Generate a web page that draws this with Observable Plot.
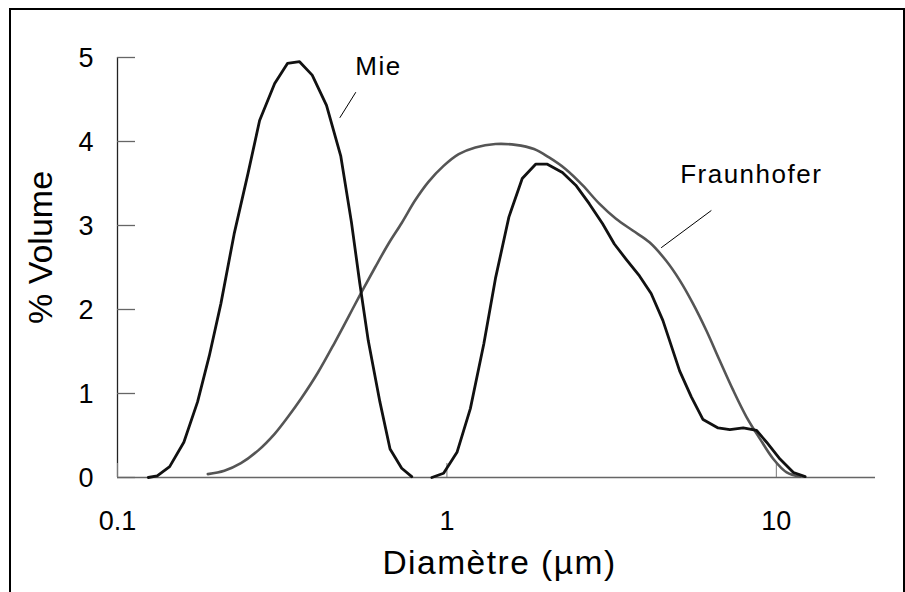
<!DOCTYPE html>
<html>
<head>
<meta charset="utf-8">
<script src="https://cdn.jsdelivr.net/npm/d3@7"></script>
<script src="https://cdn.jsdelivr.net/npm/@observablehq/plot@0.6"></script>
<style>
  html, body { margin: 0; padding: 0; background: #fff; }
  #wrap { position: relative; width: 905px; height: 592px; overflow: hidden; }
  #frame { position: absolute; left: 9px; top: 8px; width: 892px; height: 600px;
           border-left: 2px solid #000; border-top: 2px solid #000; border-right: 2px solid #000;
           pointer-events: none; }
</style>
</head>
<body>
<div id="wrap"><div id="chart"></div><div id="frame"></div></div>
<script>
// ---- data ----
const xTicks = [0.1, 1, 10];
const xTickLabels = ["0.1", "1", "10"];
const yTicks = [0, 1, 2, 3, 4, 5];
const yTickLabels = ["0", "1", "2", "3", "4", "5"];

// Mie (two humps, drawn as separate segments)
const mie1D = [0.124, 0.132, 0.144, 0.159, 0.175, 0.190, 0.206, 0.226, 0.249, 0.270, 0.300, 0.328, 0.357, 0.390, 0.431, 0.476, 0.513, 0.544, 0.577, 0.626, 0.672, 0.729, 0.782];
const mie1V = [0.00, 0.02, 0.13, 0.42, 0.90, 1.45, 2.07, 2.90, 3.62, 4.25, 4.69, 4.93, 4.95, 4.79, 4.43, 3.83, 3.04, 2.31, 1.63, 0.90, 0.34, 0.11, 0.01];
const mie2D = [0.900, 0.977, 1.073, 1.178, 1.294, 1.404, 1.542, 1.693, 1.859, 2.018, 2.242, 2.461, 2.704, 2.969, 3.223, 3.496, 3.842, 4.168, 4.524, 4.742, 5.086, 5.519, 5.991, 6.656, 7.225, 7.933, 8.710, 9.342, 10.26, 11.27, 12.23];
const mie2V = [0.00, 0.05, 0.30, 0.82, 1.59, 2.37, 3.10, 3.56, 3.73, 3.73, 3.63, 3.48, 3.26, 3.02, 2.78, 2.60, 2.40, 2.19, 1.87, 1.63, 1.27, 0.96, 0.69, 0.59, 0.57, 0.59, 0.56, 0.42, 0.22, 0.06, 0.01];

// Fraunhofer
const fraD = [0.188, 0.211, 0.237, 0.267, 0.300, 0.329, 0.361, 0.406, 0.457, 0.502, 0.551, 0.605, 0.664, 0.729, 0.801, 0.879, 0.977, 1.086, 1.220, 1.404, 1.615, 1.838, 2.042, 2.295, 2.580, 2.901, 3.260, 3.664, 4.120, 4.630, 5.086, 5.585, 6.131, 6.736, 7.394, 8.120, 8.920, 9.792, 10.75, 11.81];
const fraV = [0.04, 0.08, 0.17, 0.32, 0.52, 0.72, 0.94, 1.25, 1.61, 1.91, 2.21, 2.50, 2.78, 3.03, 3.30, 3.52, 3.71, 3.85, 3.93, 3.97, 3.96, 3.91, 3.81, 3.67, 3.48, 3.26, 3.08, 2.94, 2.80, 2.58, 2.35, 2.07, 1.75, 1.39, 1.04, 0.72, 0.46, 0.22, 0.06, 0.01];

// annotations
const annLabels = ["Mie", "Fraunhofer"];
const annTextX = [0.620, 8.39];
const annTextY = [4.885, 3.607];
const annLineX1 = [0.529, 6.35];
const annLineY1 = [4.587, 3.179];
const annLineX2 = [0.473, 4.47];
const annLineY2 = [4.282, 2.735];

const xTitle = "Diamètre (µm)";
const yTitle = "% Volume";

// ---- build tables ----
const mieRows = [
  ...mie1D.map((d, i) => ({d, v: mie1V[i], seg: "a"})),
  ...mie2D.map((d, i) => ({d, v: mie2V[i], seg: "b"}))
];
const fraRows = fraD.map((d, i) => ({d, v: fraV[i]}));
const ann = annLabels.map((t, i) => ({
  t, tx: annTextX[i], ty: annTextY[i],
  x1: annLineX1[i], y1: annLineY1[i], x2: annLineX2[i], y2: annLineY2[i]
}));
const yLab = yTicks.map((v, i) => ({v, t: yTickLabels[i]}));
const xLab = xTicks.map((v, i) => ({v, t: xTickLabels[i]}));

const FONT = "'Liberation Sans', Arial, Helvetica, sans-serif";

const chart = Plot.plot({
  width: 905,
  height: 592,
  marginLeft: 117,
  marginRight: 30,
  marginTop: 57,
  marginBottom: 115,
  style: {fontFamily: FONT, background: "#fff", color: "#000", overflow: "visible"},
  x: {type: "log", domain: [0.1, 20], axis: null},
  y: {domain: [0, 5], axis: null},
  marks: [
    // axis lines
    Plot.ruleX([0.1], {y1: 0, y2: 5, stroke: "#222", strokeWidth: 1.3}),
    Plot.ruleY([0], {x1: 0.1, x2: 20, stroke: "#666", strokeWidth: 1.3}),
    // inward ticks
    Plot.axisY({ticks: yTicks, anchor: "left", tickSize: 18, dx: 18, tickFormat: () => "", stroke: "#666", strokeWidth: 1.3, label: null}),
    Plot.axisX({ticks: xTicks, anchor: "bottom", tickSize: 14, dy: -14, tickFormat: () => "", stroke: "#777", strokeWidth: 1, label: null}),
    // tick labels
    Plot.text(yLab, {x: () => xTicks[0], y: "v", text: "t", textAnchor: "end", lineAnchor: "middle", dx: -24, dy: 1, fontSize: 27, fill: "#000"}),
    Plot.text(xLab, {x: "v", y: () => yTicks[0], text: "t", textAnchor: "middle", lineAnchor: "middle", dy: 44, fontSize: 27, fill: "#000"}),
    // curves
    Plot.line(fraRows, {x: "d", y: "v", stroke: "#555", strokeWidth: 2.6, curve: "catmull-rom"}),
    Plot.line(mieRows, {x: "d", y: "v", z: "seg", stroke: "#111", strokeWidth: 2.8, strokeLinejoin: "round"}),
    // annotations
    Plot.link(ann, {x1: "x1", y1: "y1", x2: "x2", y2: "y2", stroke: "#000", strokeWidth: 1}),
    Plot.text(ann, {x: "tx", y: "ty", text: "t", fontSize: 26, fill: "#000"}),
    // axis titles
    Plot.text([xTitle], {frameAnchor: "bottom", text: d => d, textAnchor: "middle", lineAnchor: "middle", dx: 3, dy: 86, fontSize: 33.5, fill: "#000"}),
    Plot.text([yTitle], {frameAnchor: "left", text: d => d, rotate: -90, textAnchor: "middle", lineAnchor: "middle", dx: -76, dy: -20, fontSize: 34, fill: "#000"})
  ]
});

d3.select(chart).selectAll("text")
  .filter(function() { return annLabels.includes(this.textContent); })
  .attr("letter-spacing", "1.5px");
d3.select(chart).selectAll("text")
  .filter(function() { return this.textContent === xTitle; })
  .attr("letter-spacing", "1.5px");

document.getElementById("chart").appendChild(chart);
</script>
</body>
</html>
